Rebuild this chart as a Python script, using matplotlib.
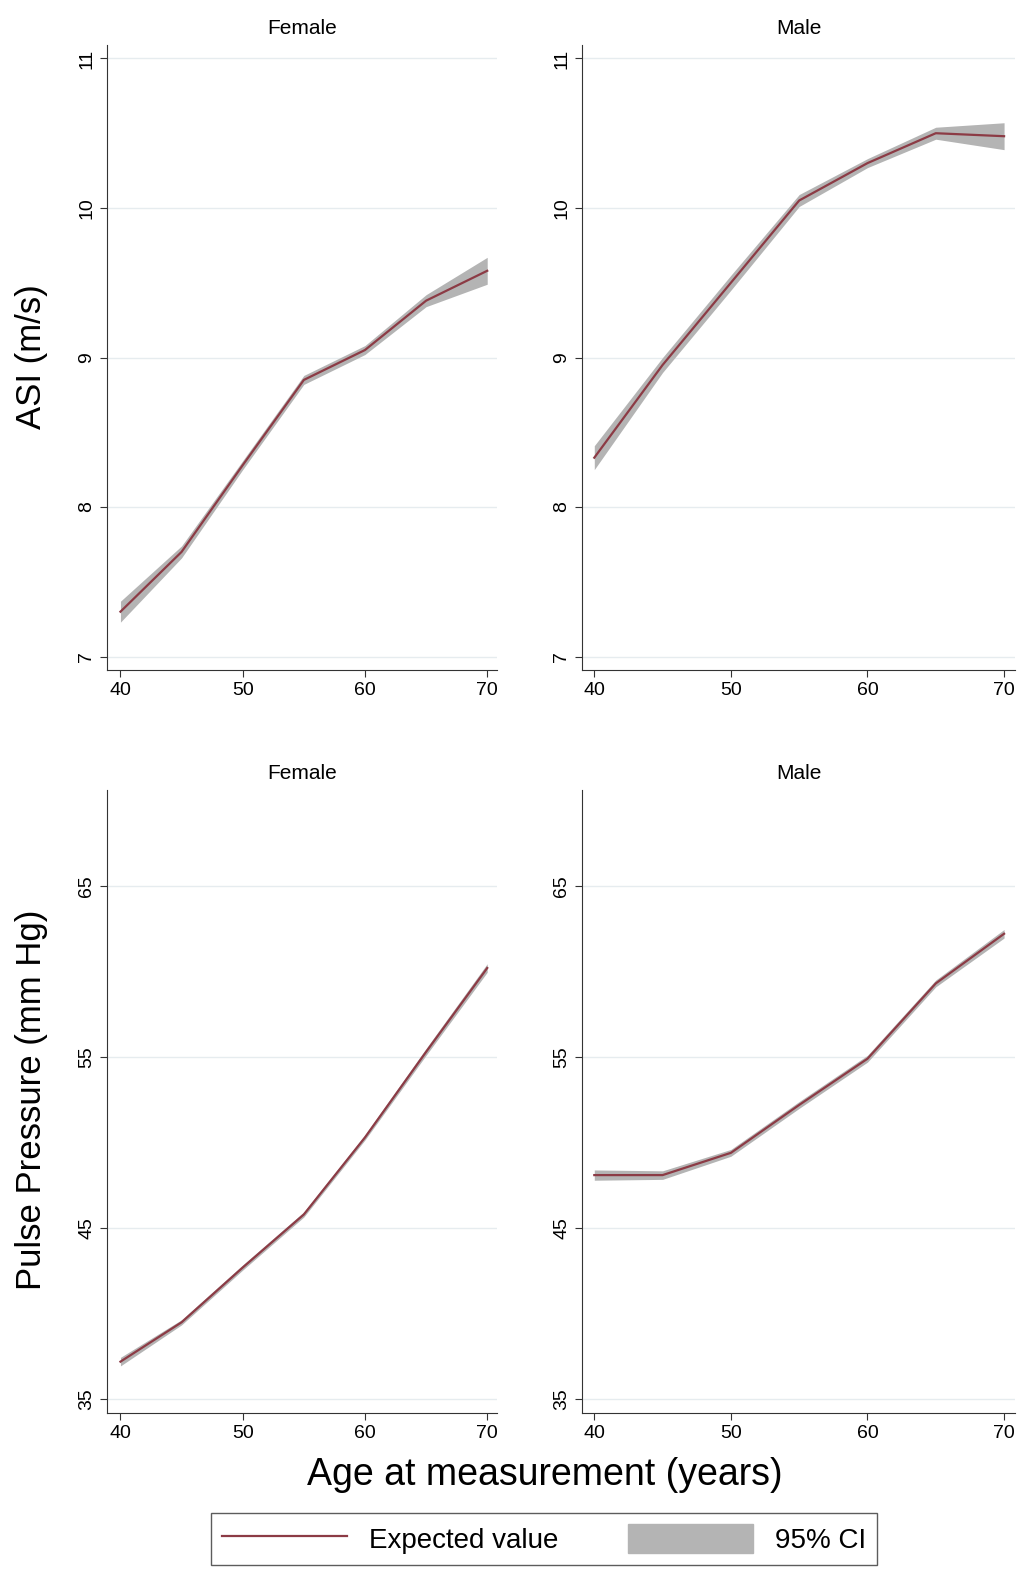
import matplotlib
matplotlib.use("Agg")
import matplotlib.pyplot as plt
import numpy as np
plt.rcParams['font.family'] = ['Liberation Sans', 'DejaVu Sans']

ages = [40, 45, 50, 55, 60, 65, 70]
asi_f = [7.30, 7.70, 8.28, 8.85, 9.05, 9.38, 9.58]
asi_f_ci = [0.07, 0.04, 0.03, 0.03, 0.03, 0.04, 0.09]
asi_m = [8.33, 8.95, 9.50, 10.05, 10.30, 10.50, 10.48]
asi_m_ci = [0.08, 0.05, 0.05, 0.04, 0.03, 0.04, 0.09]
pp_f = [37.2, 39.5, 42.7, 45.8, 50.3, 55.3, 60.2]
pp_f_ci = [0.25, 0.15, 0.15, 0.15, 0.15, 0.2, 0.25]
pp_m = [48.1, 48.1, 49.4, 52.2, 54.9, 59.3, 62.2]
pp_m_ci = [0.3, 0.25, 0.2, 0.2, 0.2, 0.2, 0.25]

W, H = 1025, 1578
fig = plt.figure(figsize=(10.25, 15.78), dpi=100)
line_c = "#8c3b45"
ci_c = "#b4b4b4"

def px_ax(x0, x1, y0, y1):
    return fig.add_axes([x0 / W, 1 - y1 / H, (x1 - x0) / W, (y1 - y0) / H])

panels = [
    (107, 497, 45, 670, asi_f, asi_f_ci, "Female", (6.91, 11.09), [7, 8, 9, 10, 11]),
    (582, 1015, 45, 670, asi_m, asi_m_ci, "Male", (6.91, 11.09), [7, 8, 9, 10, 11]),
    (107, 497, 790, 1413, pp_f, pp_f_ci, "Female", (34.2, 70.6), [35, 45, 55, 65]),
    (582, 1015, 790, 1413, pp_m, pp_m_ci, "Male", (34.2, 70.6), [35, 45, 55, 65]),
]
for x0, x1, y0, y1, vals, ci, title, ylim, yt in panels:
    ax = px_ax(x0, x1, y0, y1)
    v = np.array(vals); c = np.array(ci)
    ax.fill_between(ages, v - c, v + c, color=ci_c, lw=0, zorder=2)
    ax.plot(ages, v, color=line_c, lw=1.6, zorder=3)
    ax.set_ylim(*ylim)
    ax.set_xlim(38.9 if x0 == 107 else 39.1, 70.8)
    ax.set_xticks([40, 50, 60, 70])
    ax.set_yticks(yt)
    ax.set_yticklabels([str(t) for t in yt], rotation=90, va="center")
    ax.yaxis.grid(True, color="#e6ecef", lw=1)
    ax.set_axisbelow(True)
    for s in ("top", "right"):
        ax.spines[s].set_visible(False)
    for s in ("left", "bottom"):
        ax.spines[s].set_color("#333333")
    ax.tick_params(labelsize=14, direction="out", length=5, color="#333333")
    ax.set_title(title, fontsize=15, pad=8)

fig.text(32 / W, 1 - 357 / H, "ASI (m/s)", rotation=90, fontsize=25, ha="center", va="center")
fig.text(32 / W, 1 - 1100 / H, "Pulse Pressure (mm Hg)", rotation=90, fontsize=25, ha="center", va="center")
fig.text(545 / W, 1 - 1475 / H, "Age at measurement (years)", fontsize=27, ha="center", va="center")

from matplotlib.lines import Line2D
from matplotlib.patches import Patch
handles = [Line2D([0], [0], color=line_c, lw=1.6), Patch(color=ci_c)]
leg = fig.legend(handles, ["Expected value", "95% CI"], loc="center",
                 bbox_to_anchor=(544 / W, 1 - 1539 / H), ncol=2, fontsize=20,
                 frameon=True, fancybox=False, edgecolor="#333333",
                 handlelength=4.5, columnspacing=2.5, handleheight=1.2)
fig.savefig("out.png", dpi=100, facecolor="white")
